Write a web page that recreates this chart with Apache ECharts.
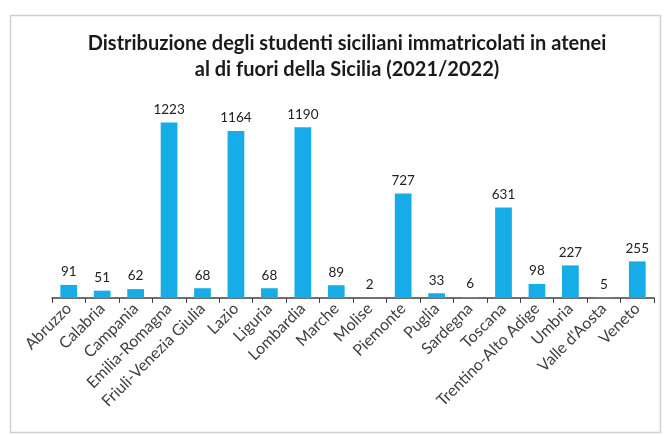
<!DOCTYPE html>
<html><head><meta charset="utf-8">
<script src="https://cdn.jsdelivr.net/npm/echarts@6/dist/echarts.min.js"></script>
<style>html,body{margin:0;padding:0;background:#fff}#c{width:666px;height:435px}</style>
</head><body><div id="c"></div>
<script>
const titleLines = ["Distribuzione degli studenti siciliani immatricolati in atenei", "al di fuori della Sicilia (2021/2022)"];
const regions = ["Abruzzo","Calabria","Campania","Emilia-Romagna","Friuli-Venezia Giulia","Lazio","Liguria","Lombardia","Marche","Molise","Piemonte","Puglia","Sardegna","Toscana","Trentino-Alto Adige","Umbria","Valle d'Aosta","Veneto"];
const students = [91,51,62,1223,68,1164,68,1190,89,2,727,33,6,631,98,227,5,255];

const chart = echarts.init(document.getElementById('c'), null, {renderer:'canvas'});
chart.setOption({
  animation:false,
  backgroundColor:'#fff',
  title:{
    text: titleLines.join('\n'),
    left:342, top:26, textAlign:'center',
    textStyle:{fontFamily:'Lato', fontWeight:'bold', fontSize:20, color:'#1a1a1a', lineHeight:26, align:'center'}
  },
  graphic:[{type:'rect', shape:{x:10.5,y:15.5,width:650,height:417}, style:{fill:'none', stroke:'#d0d0d0', lineWidth:1.5}, silent:true}],
  grid:{left:52, right:12, top:97, bottom:137},
  xAxis:{
    type:'category', data:regions,
    axisLine:{lineStyle:{color:'#404040', width:1.5}},
    axisTick:{show:true, length:5, lineStyle:{color:'#404040'}},
    axisLabel:{rotate:45, interval:0, fontFamily:'Lato', fontSize:16, color:'#404040', margin:8}
  },
  yAxis:{type:'value', min:0, max:1400, show:false, splitLine:{show:false}},
  series:[{
    type:'bar', data:students, barWidth:'50%',
    itemStyle:{color:'#15ACE8'},
    label:{show:true, position:'top', distance:6, fontFamily:'Lato', fontSize:13.5, color:'#222'}
  }]
});
</script></body></html>
